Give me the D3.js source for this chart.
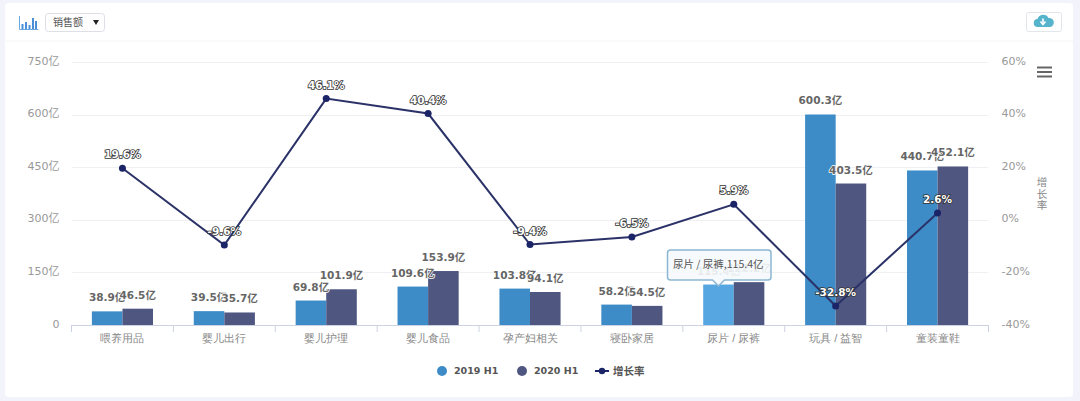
<!DOCTYPE html>
<html>
<head>
<meta charset="utf-8">
<script src="https://cdn.jsdelivr.net/npm/d3@7"></script>
<style>
  html, body { margin: 0; padding: 0; background: #f3f4fb; overflow: hidden; }
  svg { display: block; font-family: "Noto Sans CJK SC", "DejaVu Sans", sans-serif; }
</style>
</head>
<body>
<svg id="chart" width="1080" height="401"></svg>
<script>
const categories = ['喂养用品', '婴儿出行', '婴儿护理', '婴儿食品', '孕产妇相关', '寝卧家居', '尿片 / 尿裤', '玩具 / 益智', '童装童鞋']
const sales2019 = [38.9, 39.5, 69.8, 109.6, 103.8, 58.2, 115.4, 600.3, 440.7]
const sales2020 = [46.5, 35.7, 101.9, 153.9, 94.1, 54.5, 122.2, 403.5, 452.1]
const growth = [19.6, -9.6, 46.1, 40.4, -9.4, -6.5, 5.9, -32.8, 2.6]
const salesTicks = [0, 150, 300, 450, 600, 750]
const growthTicks = [-40, -20, 0, 20, 40, 60]
const seriesNames = ['2019 H1', '2020 H1', '增长率']
const seriesColors = ['#3d8cc8', '#4f5781', '#1b2467']
const hoverIndex = 6

const margins = { left: 71.5, right: 91.5, top: 62, bottom: 76 }
const width = 1080, height = 401
const latinFont = '"DejaVu Sans", "Noto Sans CJK SC", sans-serif'
const svg = d3.select('#chart')

// card and toolbar
svg.append('rect').attr('x', 5).attr('y', 3).attr('width', 1068).attr('height', 394)
  .attr('rx', 4).attr('fill', '#fff')
svg.append('line').attr('x1', 5).attr('x2', 1073).attr('y1', 41).attr('y2', 41)
  .attr('stroke', '#f4f5f8')

const icon = svg.append('g').attr('transform', 'translate(19.5,15)')
icon.selectAll('rect').data([[2, 9, 2, 5], [5.5, 7, 2, 7], [9, 10, 2, 4], [12.5, 3, 2, 11], [15.5, 6, 2, 8]]).join('rect')
  .attr('x', d => d[0]).attr('y', d => d[1]).attr('width', d => d[2]).attr('height', d => d[3]).attr('fill', '#4a90d9')
icon.append('path').attr('d', 'M0,1V14.5H19').attr('fill', 'none').attr('stroke', '#6aa8e4')

svg.append('rect').attr('x', 45.5).attr('y', 13.5).attr('width', 59).attr('height', 18)
  .attr('rx', 3).attr('fill', '#fff').attr('stroke', '#dcdfe6')
svg.append('text').attr('x', 53).attr('y', 26).attr('font-size', 10).attr('fill', '#555').text('销售额')
svg.append('path').attr('d', 'M93,20h6l-3,5z').attr('fill', '#222')

svg.append('rect').attr('x', 1026.5).attr('y', 12.5).attr('width', 35).attr('height', 19)
  .attr('rx', 2).attr('fill', '#fff').attr('stroke', '#e2e6ea')
svg.append('path').attr('d', 'M1038,27a4,4 0 0 1 -0.5,-8a6,6 0 0 1 11,-1a4.5,4.5 0 0 1 1.5,9z').attr('fill', '#55b4cc')
svg.append('path').attr('d', 'M1043,18.5v4M1040.5,21.5l2.5,3l2.5,-3').attr('fill', 'none').attr('stroke', '#fff').attr('stroke-width', 1.6)

svg.selectAll('.menu').data([0, 1, 2]).join('line').attr('class', 'menu')
  .attr('x1', 1037).attr('x2', 1052)
  .attr('y1', d => 67.5 + d * 4.5).attr('y2', d => 67.5 + d * 4.5)
  .attr('stroke', '#666').attr('stroke-width', 2)

// scales
const x = d3.scaleBand().domain(categories).range([margins.left, width - margins.right])
const barW = x.bandwidth() * 0.3
const yLeft = d3.scaleLinear().domain([0, 750]).range([height - margins.bottom, margins.top])
const yRight = d3.scaleLinear().domain([-40, 60]).range([height - margins.bottom, margins.top])

// grid
svg.append('g').selectAll('line').data(salesTicks.slice(1)).join('line')
  .attr('x1', margins.left).attr('x2', width - margins.right)
  .attr('y1', d => Math.round(yLeft(d)) + 0.5).attr('y2', d => Math.round(yLeft(d)) + 0.5)
  .attr('stroke', '#eef0f4')

// axes
const leftAxis = d3.axisLeft(yLeft).tickValues(salesTicks).tickSize(0).tickPadding(12)
  .tickFormat(d => d === 0 ? '0' : d + '亿')
const rightAxis = d3.axisRight(yRight).tickValues(growthTicks).tickSize(0).tickPadding(13)
  .tickFormat(d => d + '%')
const bottomAxis = d3.axisBottom(x).tickSize(0).tickPadding(9)

for (const [axis, tx] of [[leftAxis, margins.left], [rightAxis, width - margins.right]]) {
  const g = svg.append('g').attr('transform', `translate(${tx},-1.5)`).call(axis)
  g.select('.domain').remove()
  g.selectAll('text').attr('fill', '#999').attr('font-family', latinFont).attr('font-size', 11)
}
const xAxis = svg.append('g').attr('transform', `translate(0,${height - margins.bottom})`).call(bottomAxis)
xAxis.select('.domain').attr('stroke', '#ccd3e0')
xAxis.selectAll('text').attr('font-size', 11).attr('fill', '#888')
xAxis.selectAll('.sep').data(d3.range(categories.length + 1)).join('line').attr('class', 'sep')
  .attr('x1', i => margins.left + i * x.step()).attr('x2', i => margins.left + i * x.step())
  .attr('y1', 0).attr('y2', 7).attr('stroke', '#ccd3e0')

// right axis title, one upright character per line
svg.append('text').attr('y', 186).attr('text-anchor', 'middle')
  .attr('font-size', 10.5).attr('fill', '#888')
  .selectAll('tspan').data(Array.from(seriesNames[2])).join('tspan')
  .attr('x', 1042).attr('dy', (d, i) => i === 0 ? 0 : 11.5).text(d => d)

// bars
const rows = categories.map((c, i) => ({ c, i, a: sales2019[i], b: sales2020[i], g: growth[i] }))
svg.append('g').selectAll('rect').data(rows).join('rect')
  .attr('x', d => x(d.c) + x.bandwidth() / 2 - barW)
  .attr('y', d => yLeft(d.a)).attr('width', barW)
  .attr('height', d => yLeft(0) - yLeft(d.a))
  .attr('fill', d => d.i === hoverIndex ? '#56a6e2' : seriesColors[0])
svg.append('g').selectAll('rect').data(rows).join('rect')
  .attr('x', d => x(d.c) + x.bandwidth() / 2)
  .attr('y', d => yLeft(d.b)).attr('width', barW)
  .attr('height', d => yLeft(0) - yLeft(d.b))
  .attr('fill', seriesColors[1])

// line
svg.append('path').datum(rows)
  .attr('fill', 'none').attr('stroke', '#2b3268').attr('stroke-width', 2)
  .attr('d', d3.line().x(d => x(d.c) + x.bandwidth() / 2).y(d => yRight(d.g)))
svg.append('g').selectAll('circle').data(rows).join('circle')
  .attr('cx', d => x(d.c) + x.bandwidth() / 2).attr('cy', d => yRight(d.g)).attr('r', 3.5)
  .attr('fill', seriesColors[2])

// data labels, bar values get a white halo, growth labels are white with a dark outline
function addLabels(data, xf, yf, textf, fill, halo, haloW) {
  svg.append('g').selectAll('text').data(data).join('text')
    .attr('x', xf).attr('y', yf).attr('text-anchor', 'middle')
    .attr('font-size', 10.5).attr('font-weight', 'bold').attr('font-family', latinFont)
    .attr('fill', fill).attr('stroke', halo).attr('stroke-width', haloW)
    .attr('paint-order', 'stroke').text(textf)
}
addLabels(rows, d => x(d.c) + x.bandwidth() / 2 - barW / 2, d => yLeft(d.a) - 10, d => d.a.toFixed(1) + '亿', '#666', '#fff', 1.5)
addLabels(rows, d => x(d.c) + x.bandwidth() / 2 + barW / 2, d => yLeft(d.b) - 10, d => d.b.toFixed(1) + '亿', '#666', '#fff', 1.5)
addLabels(rows, d => x(d.c) + x.bandwidth() / 2, d => yRight(d.g) - 10, d => d.g.toFixed(1) + '%', '#fff', '#333', 1.6)

// tooltip on the hovered bar
const tipX = x(categories[hoverIndex]) + x.bandwidth() / 2 - barW / 2
const tip = svg.append('g')
tip.append('path')
  .attr('d', `M667.5,253a3,3 0 0 1 3,-3h97.5a3,3 0 0 1 3,3v24a3,3 0 0 1 -3,3H${tipX + 6}l-6,6l-6,-6H670.5a3,3 0 0 1 -3,-3z`)
  .attr('fill', '#f5f9fc').attr('fill-opacity', 0.9).attr('stroke', '#8cb6d2').attr('stroke-width', 1.5)
tip.append('text').attr('x', 673).attr('y', 268).attr('font-size', 10.5).attr('fill', '#555')
  .text(categories[hoverIndex] + ',' + sales2019[hoverIndex] + '亿')

// legend
const legendX = [437, 517, 595]
const legend = svg.append('g').selectAll('g').data(seriesNames).join('g')
  .attr('transform', (d, i) => `translate(${legendX[i]},371)`)
legend.filter((d, i) => i < 2).append('circle').attr('cx', 5).attr('r', 5).attr('fill', (d, i) => seriesColors[i])
legend.filter((d, i) => i === 2).append('line').attr('x1', 0).attr('x2', 14)
  .attr('stroke', seriesColors[2]).attr('stroke-width', 2)
legend.filter((d, i) => i === 2).append('circle').attr('cx', 7).attr('r', 3.2).attr('fill', seriesColors[2])
legend.append('text').attr('x', (d, i) => i === 2 ? 18 : 17).attr('dy', '0.35em')
  .attr('font-size', (d, i) => i === 2 ? 10.5 : 9.5).attr('font-weight', 'bold').attr('fill', '#555')
  .attr('font-family', latinFont).text(d => d)
</script>
</body>
</html>
